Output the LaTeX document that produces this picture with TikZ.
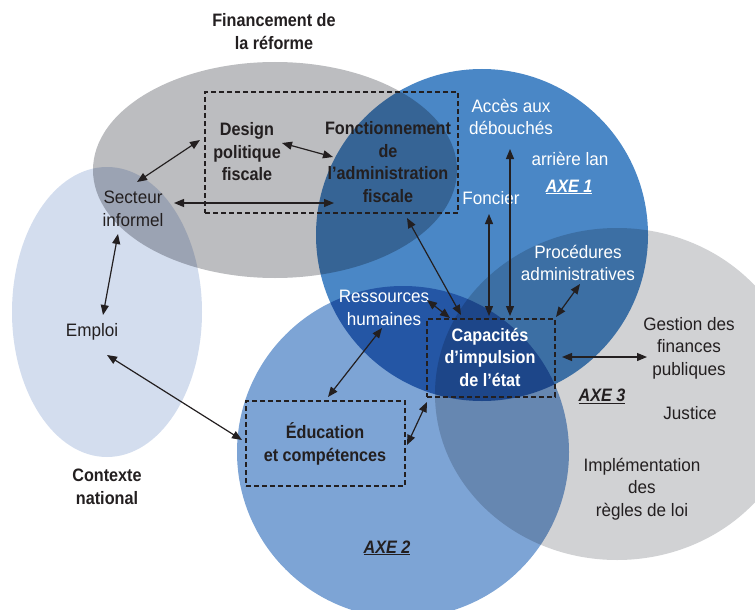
\documentclass[tikz,border=0pt]{standalone}
\usepackage{fontspec}
\setmainfont{Liberation Sans}[FakeStretch=0.95]
\newfontfamily\headfont{Liberation Sans}[FakeStretch=0.9]
\usetikzlibrary{arrows.meta}

\definecolor{finGray}{HTML}{BCBDC0}
\definecolor{ctxBlue}{HTML}{D3DDEE}
\definecolor{axeOne}{HTML}{4A87C6}
\definecolor{axeTwo}{HTML}{7DA4D5}
\definecolor{axeThree}{HTML}{D1D2D4}
\definecolor{ink}{HTML}{231F20}

\tikzset{
  lbl/.style={align=center, inner sep=0pt, text=ink,
    font=\fontsize{18}{22.5}\selectfont},
  blbl/.style={lbl, font=\headfont\fontsize{18}{22.5}\selectfont\bfseries},
  wlbl/.style={lbl, text=white},
  wblbl/.style={blbl, text=white},
  dbox/.style={draw=ink, line width=1.4pt, dash pattern=on 5pt off 3pt,
    inner sep=0pt, fill=none},
  link/.style={draw=ink, line width=1.2pt,
    {Triangle[length=10pt,width=8pt]}-{Triangle[length=10pt,width=8pt]}},
}
\newcommand{\axelabel}[1]{\underline{\headfont\bfseries\itshape #1}}

\begin{document}
\begin{tikzpicture}[x=1pt,y=-1pt]
\useasboundingbox (0,0) rectangle (755,610);
\clip (0,0) rectangle (755,610);

% overlapping fields, multiplied so that overlaps darken
\begin{scope}[blend group=multiply]
  \fill[finGray]  (275,170) ellipse [x radius=182, y radius=108];
  \fill[ctxBlue]  (107,312) ellipse [x radius=95, y radius=145];
  \fill[axeOne]   (482,235) circle [radius=166];
  \fill[axeTwo]   (403,452) circle [radius=166];
  \fill[axeThree] (617,394) ellipse [x radius=182, y radius=166];
\end{scope}

% dashed groupings
\node[dbox, minimum width=253pt, minimum height=121pt] (fbox) at (331.5,152.5) {};
\node[dbox, minimum width=128pt, minimum height=78pt]  (cbox) at (491,358) {};
\node[dbox, minimum width=159pt, minimum height=85pt]  (ebox) at (325.5,443.5) {};

% labels
\node[blbl] (fin)  at (274,31.5) {Financement de\\la réforme};
\node[blbl] (dpf)  at (247,152) {Design\\politique\\fiscale};
\node[blbl] (fad)  at (388,162) {Fonctionnement\\de\\l’administration\\fiscale};
\node[lbl]  (sec)  at (133,209) {Secteur\\informel};
\node[lbl]  (emp)  at (92,332) {Emploi};
\node[blbl] (ctx)  at (107,487) {Contexte\\national};
\node[wlbl] (acc)  at (511,117) {Accès aux\\débouchés};
\node[wlbl] (arr)  at (570,159) {arrière lan};
\node[wlbl] (ax1)  at (569,187) {\axelabel{AXE 1}};
\node[wlbl] (fon)  at (491,198) {Foncier};
\node[wlbl] (pro)  at (578,263) {Procédures\\administratives};
\node[wlbl] (res)  at (384,308) {Ressources\\humaines};
\node[wblbl] (cap) at (490,357) {Capacités\\d’impulsion\\de l’état};
\node[lbl]  (ges)  at (689,348) {Gestion des\\finances\\publiques};
\node[lbl]  (ax3)  at (602,396) {\axelabel{AXE 3}};
\node[lbl]  (jus)  at (690,413) {Justice};
\node[lbl]  (imp)  at (642,489) {Implémentation\\des\\règles de loi};
\node[blbl] (edu)  at (325,444) {Éducation\\et compétences};
\node[lbl]  (ax2)  at (387,548) {\axelabel{AXE 2}};

% connector end points
\coordinate (secA) at (137,182);  \coordinate (dpfA) at (200,140);
\coordinate (dpfB) at (282,143);  \coordinate (fadA) at (333,157);
\coordinate (secB) at (174,203);  \coordinate (fadB) at (334,203);
\coordinate (secC) at (118,234);  \coordinate (empA) at (103,315);
\coordinate (empB) at (107,355);  \coordinate (eduA) at (242,440);
\coordinate (fadC) at (407,218);  \coordinate (capA) at (461,315);
\coordinate (fonA) at (489,214);  \coordinate (capB) at (489,316);
\coordinate (accA) at (510,149);  \coordinate (capC) at (510,316);
\coordinate (proA) at (580,284);  \coordinate (capD) at (556,317);
\coordinate (resA) at (427,300);  \coordinate (capE) at (450,318);
\coordinate (capF) at (562,357);  \coordinate (gesA) at (647,357);
\coordinate (resB) at (382,328);  \coordinate (eduB) at (328,397);
\coordinate (eduC) at (407,445);  \coordinate (capG) at (427,402);

\draw[link] (secA) -- (dpfA);
\draw[link] (dpfB) -- (fadA);
\draw[link] (secB) -- (fadB);
\draw[link] (secC) -- (empA);
\draw[link] (empB) -- (eduA);
\draw[link] (fadC) -- (capA);
\draw[link] (fonA) -- (capB);
\draw[link] (accA) -- (capC);
\draw[link] (proA) -- (capD);
\draw[link] (resA) -- (capE);
\draw[link] (capF) -- (gesA);
\draw[link] (resB) -- (eduB);
\draw[link] (eduC) -- (capG);
\end{tikzpicture}
\end{document}
